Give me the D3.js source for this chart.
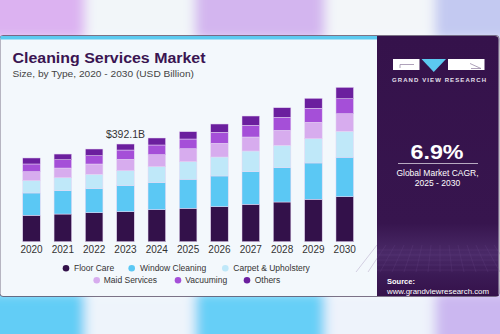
<!DOCTYPE html>
<html>
<head>
<meta charset="utf-8">
<script src="https://cdn.jsdelivr.net/npm/d3@7"></script>
<style>
  html, body { margin: 0; padding: 0; background: #fff; }
  svg { display: block; font-family: "Liberation Sans", Arial, sans-serif; }
</style>
</head>
<body>
<div id="chart"></div>
<script>
const years = ['2020', '2021', '2022', '2023', '2024', '2025', '2026', '2027', '2028', '2029', '2030'];
const types = ['Floor Care', 'Window Cleaning', 'Carpet & Upholstery', 'Maid Services', 'Vacuuming', 'Others'];

// USD billion
const floorCare      = [106.0, 111.0, 116.4, 120.4, 128.4, 134.0, 140.5, 150.0, 159.3, 170.2, 180.6];
const windowCleaning = [ 89.5,  93.5,  96.3, 104.3, 108.4, 116.4, 123.2, 130.8, 137.6, 145.7, 158.1];
const carpet         = [ 49.4,  52.2,  57.8,  60.2,  64.2,  70.6,  76.2,  83.1,  89.9,  97.5, 104.3];
const maidServices   = [ 36.1,  38.9,  41.3,  45.7,  48.2,  52.2,  55.0,  56.2,  60.2,  65.8,  70.6];
const vacuuming      = [ 30.9,  33.3,  33.3,  37.3,  38.9,  38.9,  44.1,  47.0,  52.2,  56.2,  60.2];
const others         = [ 24.1,  22.9,  26.9,  24.1,  28.1,  29.3,  33.3,  37.3,  38.5,  40.1,  45.7];

const seriesValues = [floorCare, windowCleaning, carpet, maidServices, vacuuming, others];
const colors = ['#33114a', '#5bc8f4', '#bfe8f9', '#d7acee', '#a54fd8', '#6b1f9e'];

const highlightYear = '2023';
const highlightLabel = '$392.1B';

const W = 500, H = 334;

const svg = d3.select('#chart').append('svg')
  .attr('width', W)
  .attr('height', H);

const defs = svg.append('defs');
defs.append('filter').attr('id', 'blur')
  .attr('x', '-10%').attr('y', '-10%').attr('width', '120%').attr('height', '120%')
  .append('feGaussianBlur').attr('stdDeviation', 6);

const panelGrad = defs.append('linearGradient').attr('id', 'panelGrad')
  .attr('x1', 0).attr('y1', 0).attr('x2', 0).attr('y2', 1);
panelGrad.append('stop').attr('offset', '0%').attr('stop-color', '#35124b');
panelGrad.append('stop').attr('offset', '72%').attr('stop-color', '#37154e');
panelGrad.append('stop').attr('offset', '84%').attr('stop-color', '#4a2a68');
panelGrad.append('stop').attr('offset', '92%').attr('stop-color', '#3b1a55');
panelGrad.append('stop').attr('offset', '100%').attr('stop-color', '#35124b');

// blurred background stripes behind the card
const bg = svg.append('g').attr('filter', 'url(#blur)');
const topStripes = [
  { x: -20, w: 105, c: '#dcb2f1' }, { x: 85, w: 110, c: '#f2f6f9' },
  { x: 195, w: 130, c: '#d3b5ef' }, { x: 325, w: 110, c: '#f3f6f9' },
  { x: 435, w: 90, c: '#c3c9f1' }
];
const bottomStripes = [
  { x: -20, w: 105, c: '#62cdf6' }, { x: 85, w: 110, c: '#eef4fb' },
  { x: 195, w: 130, c: '#66cff7' }, { x: 325, w: 110, c: '#eef3fb' },
  { x: 435, w: 90, c: '#cbb7f0' }
];
bg.selectAll('rect.t').data(topStripes).join('rect')
  .attr('x', d => d.x).attr('y', -20).attr('width', d => d.w).attr('height', 60)
  .attr('fill', d => d.c);
bg.selectAll('rect.b').data(bottomStripes).join('rect')
  .attr('x', d => d.x).attr('y', 292).attr('width', d => d.w).attr('height', 60)
  .attr('fill', d => d.c);

// card
svg.append('rect').attr('x', 0).attr('y', 35.5).attr('width', 499).attr('height', 261)
  .attr('rx', 3).attr('fill', '#f3f8fc').attr('stroke', '#2a1a38').attr('stroke-width', 0.6);
svg.append('rect').attr('x', 0.5).attr('y', 36).attr('width', 377).attr('height', 3.5)
  .attr('fill', '#5ccaf0');

// right panel
svg.append('path')
  .attr('d', 'M377,36 H495 Q498.5,36 498.5,39.5 V296 H377 Z')
  .attr('fill', 'url(#panelGrad)');

// faint grid in the lower part of the panel
const gridG = svg.append('g').attr('stroke', '#6a4a88').attr('stroke-width', 0.4).attr('opacity', 0.6);
d3.range(0, 14).forEach(i => {
  gridG.append('line').attr('x1', 377 + i * 9).attr('y1', 245).attr('x2', 377 + i * 9 + (i - 7) * 3).attr('y2', 272);
});
d3.range(0, 5).forEach(i => {
  gridG.append('line').attr('x1', 377).attr('y1', 250 + i * 5).attr('x2', 498).attr('y2', 250 + i * 5);
});

// logo
const logo = svg.append('g');
logo.append('rect').attr('x', 393).attr('y', 59).attr('width', 26.5).attr('height', 11).attr('fill', '#ffffff');
logo.append('path').attr('d', 'M400,68 V64.5 H414').attr('fill', 'none').attr('stroke', '#9a8aa8').attr('stroke-width', 0.8);
logo.append('path').attr('d', 'M421.5,59 H446 L433.75,72 Z').attr('fill', '#5ccaf0');
logo.append('rect').attr('x', 448).attr('y', 59).attr('width', 36.5).attr('height', 11).attr('fill', '#ffffff');
logo.append('path').attr('d', 'M470,63.5 L481,68.5 H471').attr('fill', 'none').attr('stroke', '#9a8aa8').attr('stroke-width', 0.8);
svg.append('text').attr('x', 439).attr('y', 82)
  .attr('text-anchor', 'middle').attr('fill', '#e6e0ec')
  .attr('font-size', 6).attr('font-weight', 700)
  .attr('textLength', 94).attr('lengthAdjust', 'spacing')
  .text('GRAND VIEW RESEARCH');

// CAGR block
svg.append('text').attr('x', 437).attr('y', 158.7)
  .attr('text-anchor', 'middle').attr('fill', '#ffffff')
  .attr('font-size', 21).attr('font-weight', 700)
  .attr('textLength', 53).attr('lengthAdjust', 'spacingAndGlyphs')
  .text('6.9%');
svg.append('line').attr('x1', 398).attr('x2', 478).attr('y1', 163.5).attr('y2', 163.5)
  .attr('stroke', '#d8d0e0').attr('stroke-width', 0.8);
svg.append('text').attr('x', 437.5).attr('y', 176.3)
  .attr('text-anchor', 'middle').attr('fill', '#ffffff').attr('font-size', 8.5)
  .text('Global Market CAGR,');
svg.append('text').attr('x', 437.5).attr('y', 185.8)
  .attr('text-anchor', 'middle').attr('fill', '#ffffff').attr('font-size', 8.5)
  .text('2025 - 2030');

// source
svg.append('text').attr('x', 387).attr('y', 283.5)
  .attr('fill', '#ffffff').attr('font-size', 7.5).attr('font-weight', 700)
  .text('Source:');
svg.append('text').attr('x', 387).attr('y', 293.5)
  .attr('fill', '#ffffff').attr('font-size', 7.5)
  .attr('textLength', 102).attr('lengthAdjust', 'spacingAndGlyphs')
  .text('www.grandviewresearch.com');

// titles
svg.append('text').attr('x', 12.5).attr('y', 62.5)
  .attr('fill', '#3a1552').attr('font-size', 14.5).attr('font-weight', 700)
  .attr('textLength', 193).attr('lengthAdjust', 'spacingAndGlyphs')
  .text('Cleaning Services Market');
svg.append('text').attr('x', 12.5).attr('y', 76.5)
  .attr('fill', '#444444').attr('font-size', 9)
  .attr('textLength', 181.5).attr('lengthAdjust', 'spacingAndGlyphs')
  .text('Size, by Type, 2020 - 2030 (USD Billion)');

// chart
const baseline = 241.7;
const x = d3.scaleBand()
  .domain(years)
  .range([15.84, 360.4])
  .paddingInner(0.44)
  .paddingOuter(0.22);

const y = d3.scaleLinear()
  .domain([0, 400])
  .range([baseline, baseline - 400 * (97.7 / 392.1)]);

const table = years.map((yr, i) => {
  const row = { year: yr };
  types.forEach((t, j) => { row[t] = seriesValues[j][i]; });
  return row;
});

const stacked = d3.stack().keys(types)(table);

const bars = svg.append('g');
bars.selectAll('g')
  .data(stacked)
  .join('g')
  .attr('fill', (d, i) => colors[i])
  .selectAll('rect')
  .data(d => d)
  .join('rect')
  .attr('x', d => x(d.data.year))
  .attr('width', x.bandwidth())
  .attr('y', d => y(d[1]))
  .attr('height', d => y(d[0]) - y(d[1]))
  .attr('stroke', '#e6d6f3')
  .attr('stroke-width', 0.5);

// total label over highlighted bar
const hlTotal = d3.sum(seriesValues, s => s[years.indexOf(highlightYear)]);
svg.append('text')
  .attr('x', x(highlightYear) + x.bandwidth() / 2)
  .attr('y', y(hlTotal) - 6)
  .attr('text-anchor', 'middle')
  .attr('fill', '#333333')
  .attr('font-size', 10.5)
  .text(highlightLabel);

// x axis labels
const xAxis = svg.append('g')
  .attr('transform', `translate(0,${baseline})`)
  .call(d3.axisBottom(x).tickSize(0).tickPadding(4));
xAxis.select('.domain').remove();
xAxis.selectAll('text')
  .attr('fill', '#333333')
  .attr('font-size', 10)
  .attr('font-family', '"Liberation Sans", Arial, sans-serif');

// legend
const legendRows = [
  [{ k: 0, dx: 66, tx: 74 }, { k: 1, dx: 131.7, tx: 140 }, { k: 2, dx: 225.3, tx: 233.3 }],
  [{ k: 3, dx: 96.7, tx: 103.7 }, { k: 4, dx: 178, tx: 185.3 }, { k: 5, dx: 247, tx: 254.7 }]
];
const legendY = [268.3, 280.3];
legendRows.forEach((row, r) => {
  const g = svg.append('g');
  g.selectAll('circle').data(row).join('circle')
    .attr('cx', d => d.dx).attr('cy', legendY[r]).attr('r', 3.3)
    .attr('fill', d => colors[d.k]);
  g.selectAll('text').data(row).join('text')
    .attr('x', d => d.tx).attr('y', legendY[r] + 3)
    .attr('fill', '#333333').attr('font-size', 8.5)
    .text(d => types[d.k]);
});
</script>
</body>
</html>
